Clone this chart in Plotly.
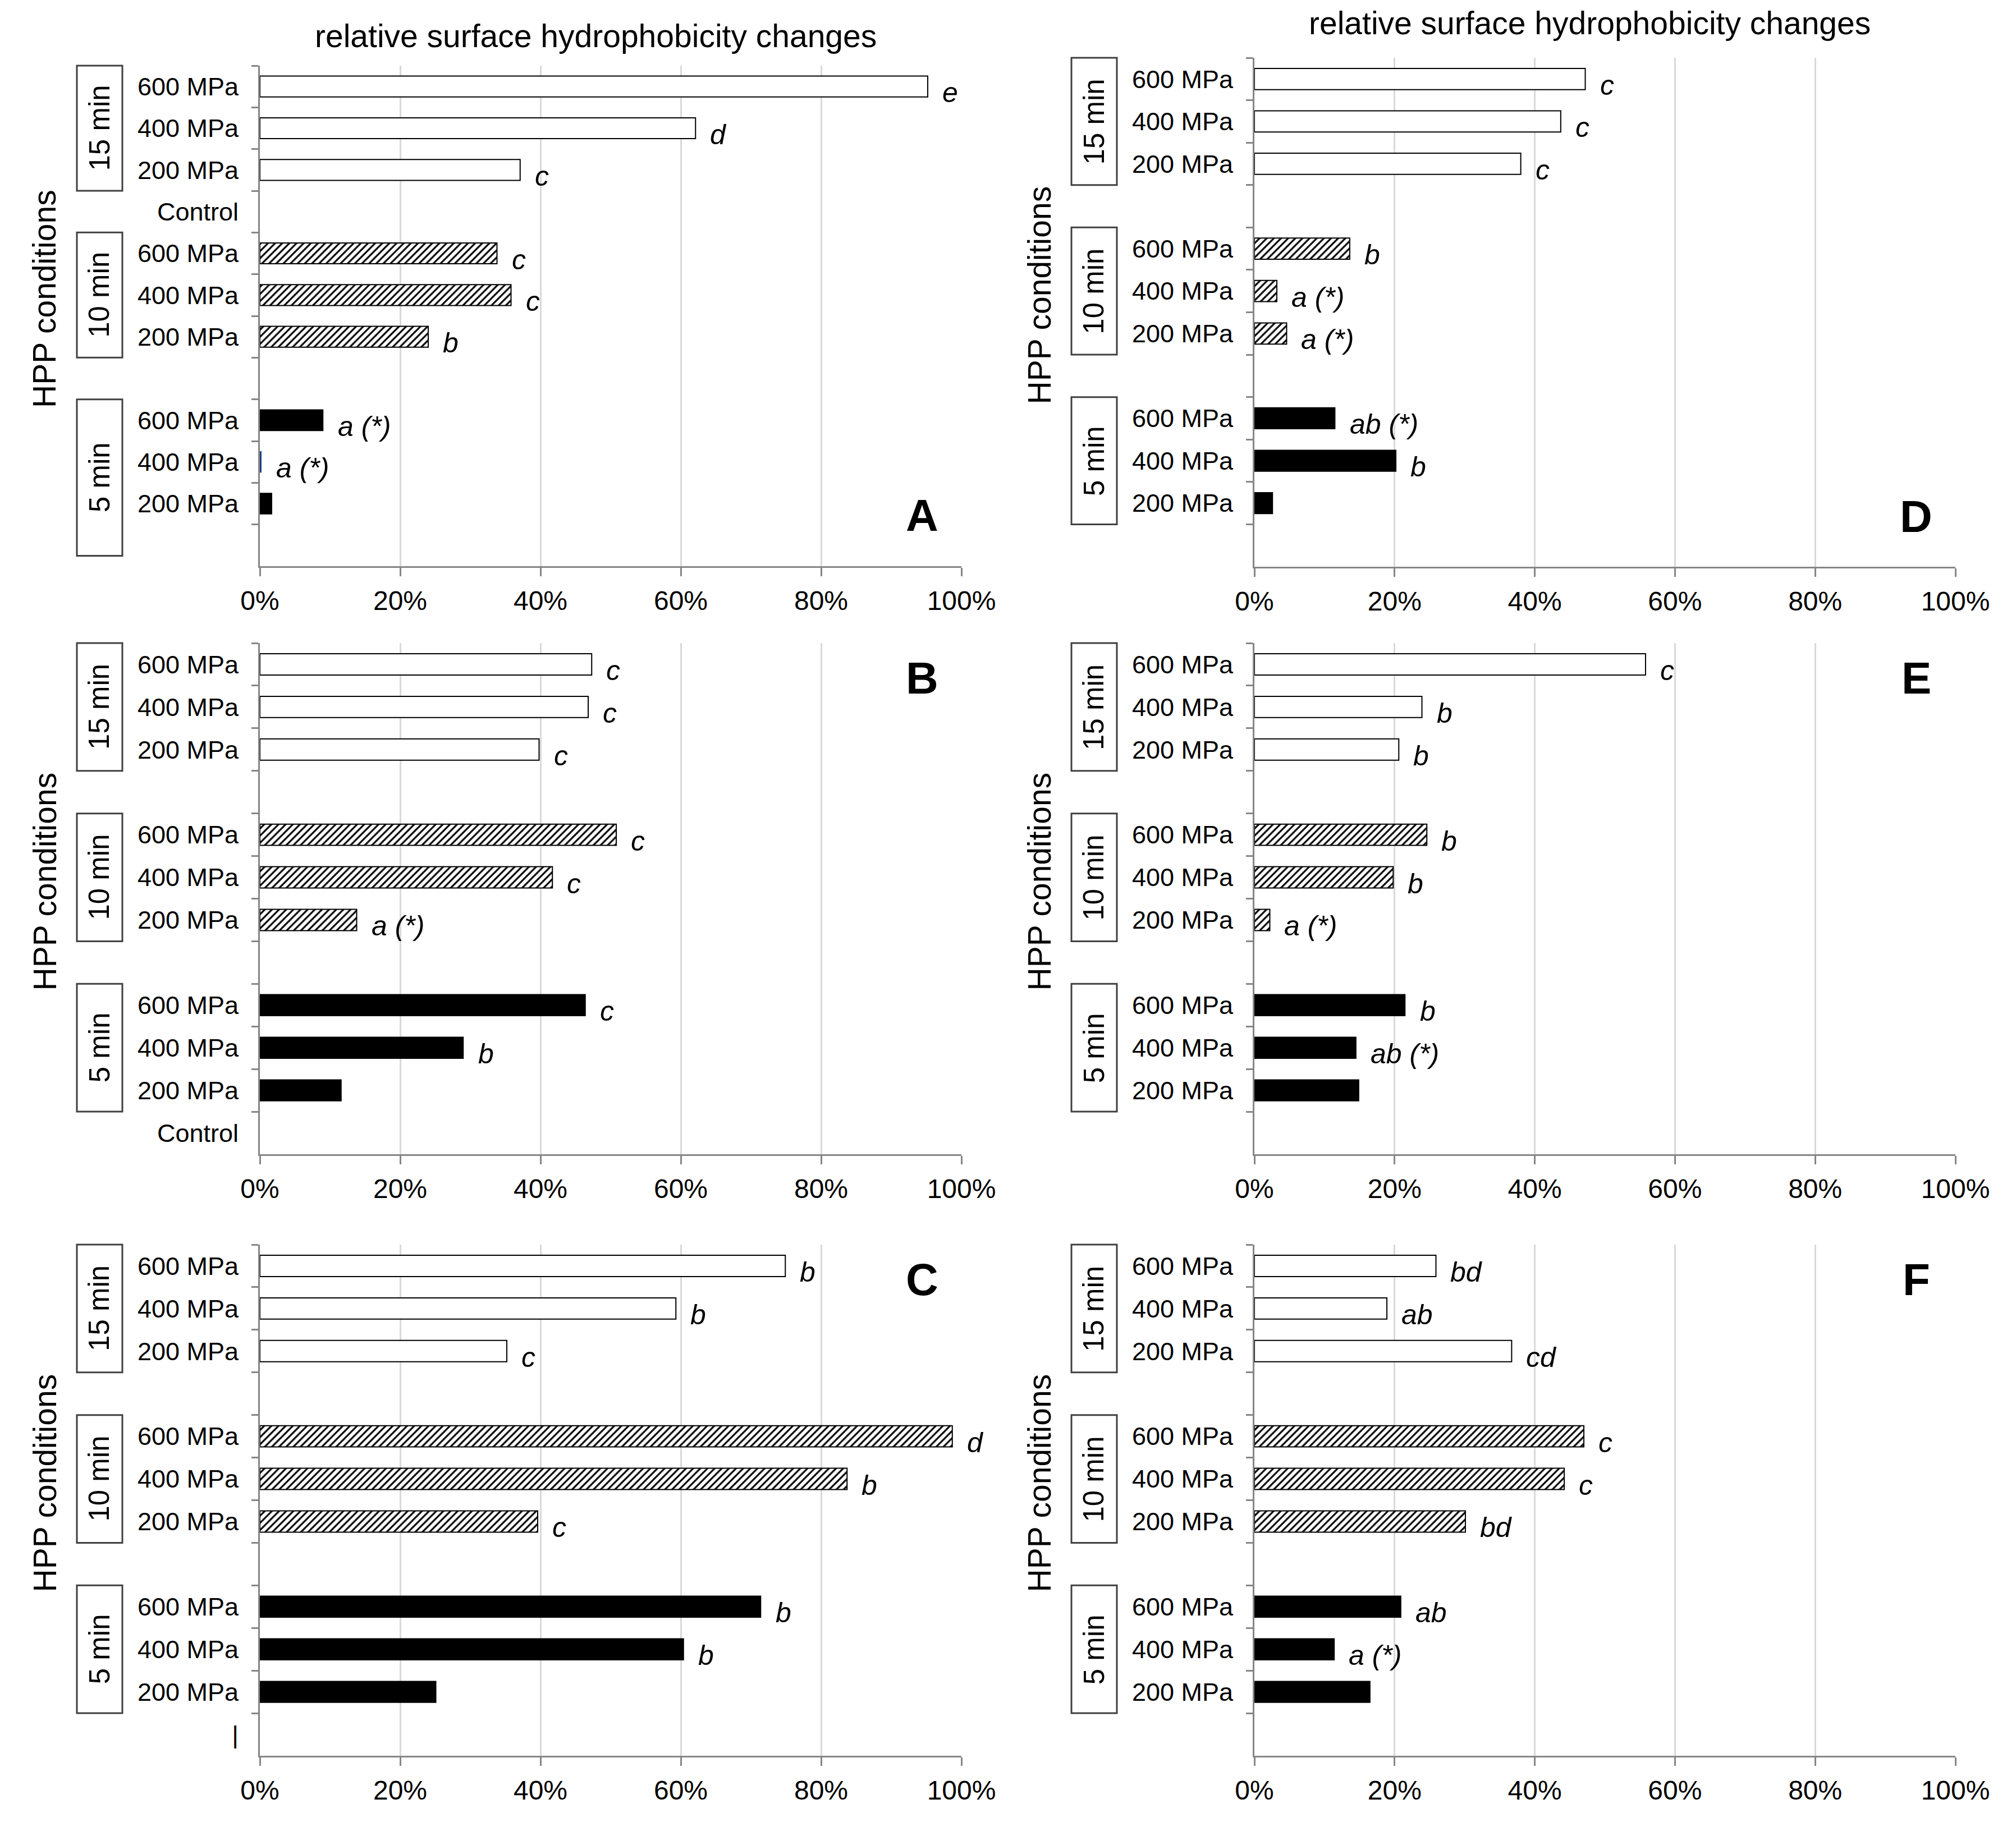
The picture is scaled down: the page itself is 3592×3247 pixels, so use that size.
import plotly.graph_objects as go

W, H = 3592, 3247
FONT = "Liberation Sans, Arial, sans-serif"
PAGE_MARGIN = 8  # default <body> margin of the page, compensated below

# ---------------- data ----------------
TIMES = ["15 min", "10 min", "5 min"]
PRESSURES = ["600 MPa", "400 MPa", "200 MPa"]
X_TICKS = [0, 20, 40, 60, 80, 100]
TITLE = "relative surface hydrophobicity changes"
Y_TITLE = "HPP conditions"
PANEL_NAMES = ["A", "B", "C", "D", "E", "F"]

# values (% change) per time group, rows 600 / 400 / 200 MPa
A_15 = [95.2, 62.1, 37.1]
A_10 = [33.8, 35.8, 24.0]
A_5 = [9.0, 0.2, 1.7]
B_15 = [47.3, 46.8, 39.8]
B_10 = [50.8, 41.7, 13.8]
B_5 = [46.4, 29.0, 11.6]
C_15 = [74.9, 59.3, 35.2]
C_10 = [98.7, 83.7, 39.6]
C_5 = [71.4, 60.4, 25.1]
D_15 = [47.2, 43.7, 38.0]
D_10 = [13.6, 3.2, 4.6]
D_5 = [11.5, 20.2, 2.6]
E_15 = [55.8, 23.9, 20.6]
E_10 = [24.6, 19.8, 2.2]
E_5 = [21.5, 14.5, 14.9]
F_15 = [25.9, 18.9, 36.7]
F_10 = [47.0, 44.2, 30.1]
F_5 = [20.9, 11.4, 16.5]

# significance letters
A_15_LAB = ["e", "d", "c"]
A_10_LAB = ["c", "c", "b"]
A_5_LAB = ["a (*)", "a (*)", ""]
B_15_LAB = ["c", "c", "c"]
B_10_LAB = ["c", "c", "a (*)"]
B_5_LAB = ["c", "b", ""]
C_15_LAB = ["b", "b", "c"]
C_10_LAB = ["d", "b", "c"]
C_5_LAB = ["b", "b", ""]
D_15_LAB = ["c", "c", "c"]
D_10_LAB = ["b", "a (*)", "a (*)"]
D_5_LAB = ["ab (*)", "b", ""]
E_15_LAB = ["c", "b", "b"]
E_10_LAB = ["b", "b", "a (*)"]
E_5_LAB = ["b", "ab (*)", ""]
F_15_LAB = ["bd", "ab", "cd"]
F_10_LAB = ["c", "c", "bd"]
F_5_LAB = ["ab", "a (*)", ""]

# labels of the separator slot after each time group
A_SEP = ["Control", "", ""]
B_SEP = ["", "", "Control"]
C_SEP = ["", "", "|"]
D_SEP = ["", "", ""]
E_SEP = ["", "", ""]
F_SEP = ["", "", ""]

PANEL_VALUES = [
    [A_15, A_10, A_5], [B_15, B_10, B_5], [C_15, C_10, C_5],
    [D_15, D_10, D_5], [E_15, E_10, E_5], [F_15, F_10, F_5],
]
PANEL_LABELS = [
    [A_15_LAB, A_10_LAB, A_5_LAB], [B_15_LAB, B_10_LAB, B_5_LAB],
    [C_15_LAB, C_10_LAB, C_5_LAB], [D_15_LAB, D_10_LAB, D_5_LAB],
    [E_15_LAB, E_10_LAB, E_5_LAB], [F_15_LAB, F_10_LAB, F_5_LAB],
]
PANEL_SEPS = [A_SEP, B_SEP, C_SEP, D_SEP, E_SEP, F_SEP]

# ---------------- layout (pixel boxes of the plot areas) ----------------
PANEL_BOX = [  # x0, x1, y0(top), y1(bottom)
    (463, 1713, 117, 1009),
    (463, 1713, 1146, 2057),
    (463, 1713, 2218, 3129),
    (2235, 3484, 103, 1010),
    (2235, 3484, 1146, 2057),
    (2235, 3484, 2218, 3129),
]
LETTER_AT_BOTTOM = [True, False, False, True, False, False]
TITLE_DY = [-53, None, None, -62, None, None]
# extra slots the "5 min" box extends downward (panel A box is taller)
BOX_EXTRA = [[0, 0, 0.75], [0, 0, 0], [0, 0, 0], [0, 0, 0], [0, 0, 0], [0, 0, 0]]

AXIS_GRAY = "#868686"
GRID_GRAY = "#d9d9d9"
BOX_GRAY = "#404040"


def px_x(px):
    return (px - PAGE_MARGIN) / W


def px_y(px):
    return 1 - (px - PAGE_MARGIN) / H


fig = go.Figure()
annotations = []
shapes = []
layout_axes = {}

for i in range(6):
    n = i + 1
    xa, ya = f"x{n}", f"y{n}"
    x0, x1, y0, y1 = PANEL_BOX[i]
    slot_h = (y1 - y0) / 12.0

    # categories: 3 groups of 3 pressures + separator slot each
    cat_ids, cat_text = [], []
    for gi, t in enumerate(TIMES):
        for p in PRESSURES:
            cat_ids.append(f"{t}|{p}")
            cat_text.append(p)
        cat_ids.append(f"sep{gi}")
        cat_text.append(PANEL_SEPS[i][gi])

    for gi, t in enumerate(TIMES):
        ids = [f"{t}|{p}" for p in PRESSURES]
        vals = PANEL_VALUES[i][gi]
        if gi == 0:
            marker = dict(color="white", line=dict(color="black", width=2))
        elif gi == 1:
            marker = dict(color="white", line=dict(color="black", width=2),
                          pattern=dict(shape="/", fgcolor="black", bgcolor="white",
                                       size=9, solidity=0.35))
        else:
            lc = ["black", "#4472c4", "black"] if i == 0 else "black"
            marker = dict(color="black", line=dict(color=lc, width=1.5))
        fig.add_trace(go.Bar(x=vals, y=ids, orientation="h", width=0.5,
                             marker=marker, xaxis=xa, yaxis=ya,
                             showlegend=False, hoverinfo="skip"))
        for cid, v, lab in zip(ids, vals, PANEL_LABELS[i][gi]):
            if lab:
                annotations.append(dict(
                    x=v, y=cid, xref=xa, yref=ya, text=f"<i>{lab}</i>",
                    showarrow=False, xanchor="left", yanchor="middle",
                    xshift=24, yshift=-11,
                    font=dict(family=FONT, size=50, color="black")))

        # group box + label
        first = cat_ids.index(ids[0])
        last = cat_ids.index(ids[-1])
        top_px = y0 + first * slot_h
        bot_px = y0 + (last + 1 + BOX_EXTRA[i][gi]) * slot_h
        shapes.append(dict(type="rect", xref="paper", yref="paper",
                           x0=px_x(x0 - 326), x1=px_x(x0 - 245),
                           y0=px_y(bot_px), y1=px_y(top_px),
                           line=dict(color=BOX_GRAY, width=3),
                           fillcolor="rgba(0,0,0,0)"))
        annotations.append(dict(
            x=px_x(x0 - 286), y=px_y((top_px + bot_px) / 2), xref="paper", yref="paper",
            text=t, textangle=-90, showarrow=False, xanchor="center", yanchor="middle",
            font=dict(family=FONT, size=51, color="black")))

    # y title
    annotations.append(dict(
        x=px_x(x0 - 384), y=px_y((y0 + y1) / 2 - 30), xref="paper", yref="paper",
        text=Y_TITLE, textangle=-90, showarrow=False, xanchor="center", yanchor="middle",
        font=dict(family=FONT, size=57, color="black")))

    # panel letter
    ly = y1 - 90 if LETTER_AT_BOTTOM[i] else y0 + 62
    annotations.append(dict(
        x=px_x(x1 - 70), y=px_y(ly), xref="paper", yref="paper",
        text=f"<b>{PANEL_NAMES[i]}</b>", showarrow=False, xanchor="center", yanchor="middle",
        font=dict(family=FONT, size=80, color="black")))

    # top title
    if TITLE_DY[i] is not None:
        annotations.append(dict(
            x=px_x((x0 + x1) / 2 - 27), y=px_y(y0 + TITLE_DY[i]), xref="paper", yref="paper",
            text=TITLE, showarrow=False, xanchor="center", yanchor="middle",
            font=dict(family=FONT, size=57, color="black")))

    sfx = "" if n == 1 else str(n)
    layout_axes[f"xaxis{sfx}"] = dict(
        domain=[px_x(x0), px_x(x1)], anchor=ya, range=[0, 100], autorange=False,
        tickvals=X_TICKS, ticktext=[f"{v}%" for v in X_TICKS],
        showgrid=True, gridcolor=GRID_GRAY, gridwidth=3,
        showline=True, linecolor=AXIS_GRAY, linewidth=3,
        ticks="outside", ticklen=15, tickwidth=3, tickcolor=AXIS_GRAY,
        tickfont=dict(family=FONT, size=48, color="black"),
        ticklabelstandoff=2, zeroline=False, fixedrange=True, automargin=False)
    layout_axes[f"yaxis{sfx}"] = dict(
        domain=[px_y(y1), px_y(y0)], anchor=xa, type="category",
        categoryorder="array", categoryarray=cat_ids,
        tickvals=cat_ids, ticktext=cat_text,
        range=[11.5, -0.5], autorange=False,
        showline=True, linecolor=AXIS_GRAY, linewidth=3,
        ticks="outside", tickson="boundaries", ticklen=12, tickwidth=3,
        tickcolor=AXIS_GRAY, showgrid=False, zeroline=False,
        tickfont=dict(family=FONT, size=45, color="black"),
        ticklabelstandoff=26, fixedrange=True, automargin=False)

fig.update_layout(
    template="none",
    width=W, height=H, margin=dict(l=0, r=0, t=0, b=0, pad=0, autoexpand=False),
    paper_bgcolor="white", plot_bgcolor="white", showlegend=False,
    bargap=0.5, annotations=annotations, shapes=shapes,
    font=dict(family=FONT, color="black"),
    **layout_axes)

fig.write_html("out.html")
